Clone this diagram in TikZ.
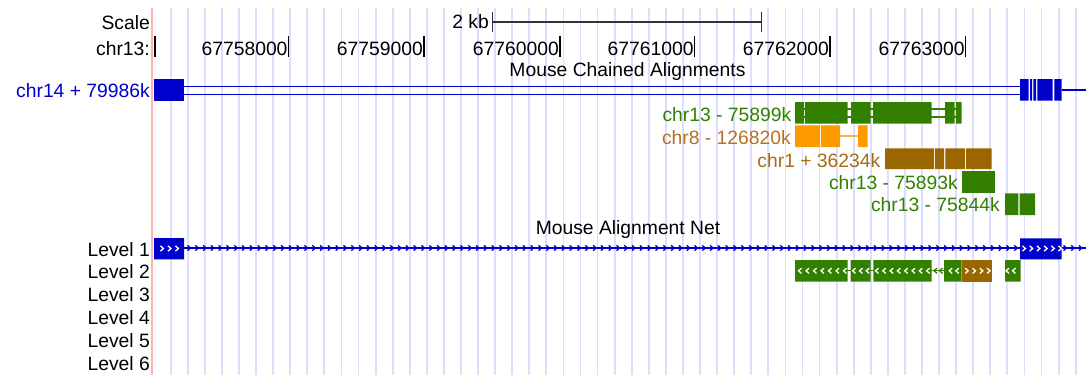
\documentclass[tikz,border=0pt]{standalone}
\usepackage{fontspec}
\setmainfont{Liberation Sans}
\usetikzlibrary{calc}
\definecolor{netblue}{RGB}{0,0,204}
\definecolor{chaingreen}{RGB}{51,128,0}
\definecolor{chainorange}{RGB}{255,153,0}
\definecolor{chainbrown}{RGB}{153,102,0}
\definecolor{orangetext}{RGB}{180,115,35}
\definecolor{browntext}{RGB}{165,110,20}
\definecolor{gridblue}{RGB}{221,221,255}
\definecolor{guidered}{RGB}{255,178,178}
\newcommand{\rchev}[3][white]{\draw[#1, line width=1.3pt] (#2-1.5,#3-2.6) -- (#2+1.5,#3) -- (#2-1.5,#3+2.6);}
\newcommand{\lchev}[3][white]{\draw[#1, line width=1.3pt] (#2+1.5,#3-2.6) -- (#2-1.5,#3) -- (#2+1.5,#3+2.6);}

\begin{document}
\begin{tikzpicture}[x=1pt, y=-1pt,
    every node/.style={inner sep=0pt, font=\fontsize{19.3}{22}\selectfont},
    rowlabel/.style={anchor=base east},
    gridline/.style={gridblue, line width=1.8pt},
    tick/.style={black, line width=1.5pt},
    netline/.style={netblue, line width=1.3pt}]
    \useasboundingbox[fill=white] (0,0) rectangle (1086,375);
    \foreach \i in {0,...,53}
      \draw[gridline] ({170.7+17.075*\i},8) -- ++(0,367);
    \draw[guidered, line width=1.8pt] (152,8) -- (152,375);
    % ruler
    \node[rowlabel] (scale) at (150,29.5) {Scale};
    \node[rowlabel] (chrom) at (150,55) {chr13:};
    \node[rowlabel] (kb) at (489,28) {2 kb};
    \draw[black!80, line width=1.3pt] (492.7,12) -- (492.7,32) (492.7,22) -- (761.7,22) (761.7,12) -- (761.7,32);
    \draw[tick] (155,35.7) -- (155,56.7);
    \foreach \x/\lbl in {288.7/67758000, 424/67759000, 560/67760000, 694.7/67761000, 830/67762000, 965.7/67763000} {
      \draw[tick] (\x,35.7) -- (\x,56.7);
      \node[rowlabel] (pos\lbl) at (\x-1,55) {\lbl};
    }
    % chains
    \node[anchor=base] (chaintitle) at (627.5,76.5) {Mouse Chained Alignments};
    \node[rowlabel, text=netblue] (chrfourteen) at (150,97) {chr14 + 79986k};
    \draw[netline] (184,86.3) -- (1020,86.3) (184,94.7) -- (1020,94.7) (1061.7,90) -- (1086,90);
    \fill[netblue] (154,79) rectangle (184,100.7);
    \fill[netblue] (1020,79) rectangle (1028.7,100.7) (1030,79) rectangle (1032,100.7)
      (1033.3,79) rectangle (1036,100.7) (1037.3,79) rectangle (1052.7,100.7) (1054.3,79) rectangle (1061.7,100.7);
    \node[rowlabel, text=chaingreen] (chrthirteena) at (791.5,121.5) {chr13 - 75899k};
    \draw[chaingreen, line width=1.3pt] (804,109) -- (956,109) (804,117) -- (956,117);
    \fill[chaingreen] (795,102) rectangle (804,123.7) (805,102) rectangle (847.7,123.7) (851,102) rectangle (870.7,123.7)
      (873,102) rectangle (931.7,123.7) (945,102) rectangle (954.7,123.7) (956,102) rectangle (961.7,123.7);
    \node[rowlabel, text=orangetext] (chreight) at (791,144) {chr8 - 126820k};
    \draw[chainorange!75, line width=2pt] (840,136) -- (858,136);
    \fill[chainorange] (795,125.3) rectangle (820,147) (821,125.3) rectangle (840,147) (858,125.3) rectangle (867.7,147);
    \node[rowlabel, text=browntext] (chrone) at (880.5,167) {chr1 + 36234k};
    \fill[chainbrown] (885,148.3) rectangle (934,169) (935,148.3) rectangle (944,169)
      (945.3,148.3) rectangle (965,169) (966,148.3) rectangle (991.7,169);
    \node[rowlabel, text=chaingreen] (chrthirteenb) at (958,189.5) {chr13 - 75893k};
    \fill[chaingreen] (962,171) rectangle (995,192.7);
    \node[rowlabel, text=chaingreen] (chrthirteenc) at (1000,211.5) {chr13 - 75844k};
    \fill[chaingreen] (1005,193.3) rectangle (1018.3,215) (1019.7,193.3) rectangle (1035,215);
    % net
    \node[anchor=base] (nettitle) at (628,234) {Mouse Alignment Net};
    \foreach \n in {1,...,6}
      \node[rowlabel] (level\n) at (150,{256+22.8*(\n-1)}) {Level \n};
    \draw[netblue, line width=1.5pt] (184,248) -- (1020,248) (1061.7,248) -- (1086,248);
    \foreach \x in {189,196.8,...,1018} {\rchev[netblue]{\x}{248}}
    \foreach \x in {1065,1072.7,1080.4} {\rchev[netblue]{\x}{248}}
    \fill[netblue] (154,238) rectangle (184,259.3) (1020,238.3) rectangle (1061.7,259.3);
    \foreach \x in {162,169.5,177} {\rchev{\x}{248.5}}
    \foreach \x in {1024,1031.2,...,1061} {\rchev{\x}{248.5}}
    \draw[chaingreen, line width=1.3pt] (795,270.7) -- (961.7,270.7);
    \lchev[chaingreen]{935.5}{270.7}
    \lchev[chaingreen]{941}{270.7}
    \fill[chaingreen] (795,260) rectangle (847.7,281.7) (850.7,260) rectangle (870.7,281.7)
      (873.3,260) rectangle (931.7,281.7) (944,260) rectangle (961.7,281.7) (1005,260) rectangle (1020.7,281.7);
    \fill[chainbrown] (961.7,260) rectangle (991.7,281.7);
    \foreach \x in {800,807.5,...,846} {\lchev{\x}{270.8}}
    \foreach \x in {854,861,867.7} {\lchev{\x}{270.8}}
    \foreach \x in {877,884.3,...,929} {\lchev{\x}{270.8}}
    \foreach \x in {950.7,957.3,1007.5,1014} {\lchev{\x}{270.8}}
    \foreach \x in {966.7,974,981.3,988.5} {\rchev{\x}{270.8}}
  \end{tikzpicture}
\end{document}
